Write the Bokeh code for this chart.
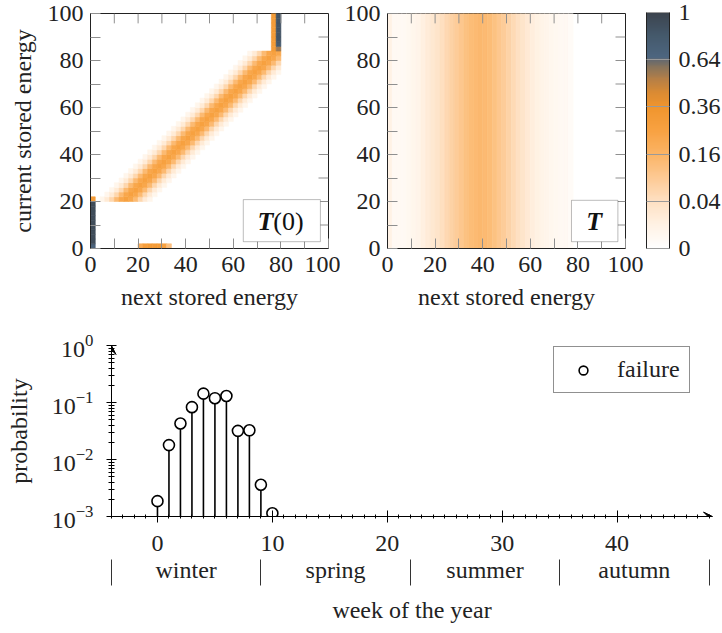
import numpy as np
from bokeh.plotting import figure
from bokeh.models import (ColumnDataSource, LinearColorMapper, ColorBar, FixedTicker,
                          LinearAxis, BoxAnnotation, Label, Arrow, VeeHead, Range1d)
from bokeh.transform import transform
from bokeh.layouts import column, row
from bokeh.embed import file_html
from bokeh.resources import INLINE

SERIF = "Liberation Serif"
FS = "24px"
TXT = "#222222"

# ---------------- data ----------------
n_states = 50            # energy states, each 2 units wide (0..100)
state_width = 2

# T(0): rows = current stored energy state, cols = next stored energy state
band_first_row = 10
band_last_row = 41
band_center_shift = -3   # centre column relative to the row
band_profile = [0.005, 0.02, 0.06, 0.14, 0.22, 0.26, 0.22, 0.14, 0.06, 0.02, 0.005]
cap_rows = [42, 43, 44, 45, 46, 47, 48, 49]
cap_col38 = [0.30, 0.30, 0.30, 0.30, 0.30, 0.30, 0.30, 0.30]
cap_col39 = [0.55, 0.80, 0.85, 0.85, 0.85, 0.85, 0.85, 0.85]
low_rows = [0, 1, 2, 3, 4, 5, 6, 7, 8, 9]
low_col0 = [0.70, 0.92, 0.92, 0.92, 0.92, 0.92, 0.92, 0.92, 0.92, 0.92]
row10_col0 = 0.30
row0_cols = [10, 11, 12, 13, 14, 15, 16]
row0_vals = [0.20, 0.28, 0.30, 0.30, 0.30, 0.25, 0.12]

# T: same distribution of next state for every current state
T_next_profile = [0.010, 0.002, 0.002, 0.002, 0.003, 0.005, 0.007, 0.012, 0.018, 0.025,
                  0.032, 0.042, 0.055, 0.070, 0.085, 0.100, 0.115, 0.130, 0.140, 0.145,
                  0.140, 0.130, 0.115, 0.100, 0.085, 0.068, 0.052, 0.040, 0.030, 0.022,
                  0.015, 0.011, 0.008, 0.006, 0.004, 0.003, 0.002, 0.002, 0.001, 0.0,
                  0.0, 0.0, 0.0, 0.0, 0.0, 0.0, 0.0, 0.0, 0.0, 0.0]

heat_ticks = [0, 20, 40, 60, 80, 100]
heat_minor = [10, 30, 50, 70, 90]
cbar_values = [0, 0.04, 0.16, 0.36, 0.64, 1]
cbar_labels = ["0", "0.04", "0.16", "0.36", "0.64", "1"]

weeks = [0, 1, 2, 3, 4, 5, 6, 7, 8, 9, 10]
failure_prob = [0.00186, 0.0179, 0.0428, 0.0828, 0.143, 0.119, 0.130, 0.0318, 0.0325, 0.0036, 0.00114]
week_ticks = [0, 10, 20, 30, 40]
season_names = ["winter", "spring", "summer", "autumn"]
season_bounds = [-4, 9, 22, 35, 48]

# ---------------- matrices ----------------
T0 = np.zeros((n_states, n_states))
for r in range(band_first_row, band_last_row + 1):
    c0 = r + band_center_shift - len(band_profile) // 2
    for k, v in enumerate(band_profile):
        c = c0 + k
        if 0 <= c < 40:
            T0[r, c] += v
for r, a, b in zip(cap_rows, cap_col38, cap_col39):
    T0[r, 38] = a
    T0[r, 39] = b
for r, v in zip(low_rows, low_col0):
    T0[r, 0] = v
T0[10, 0] = row10_col0
for c, v in zip(row0_cols, row0_vals):
    T0[0, c] = v

# ---------------- colour map (sqrt scale) ----------------
anchors = [(0.0, "#ffffff"), (0.1, "#fff2e4"), (0.2, "#fee0c2"), (0.3, "#fdca94"),
           (0.4, "#fbb465"), (0.5, "#f8a242"), (0.6, "#f0952e"), (0.66, "#db8b33"),
           (0.72, "#b47f47"), (0.77, "#87745c"), (0.8, "#66696d"), (0.81, "#4d6680"),
           (0.9, "#455a6d"), (1.0, "#3c444e")]


def hex2rgb(h):
    return [int(h[i:i + 2], 16) for i in (1, 3, 5)]


palette = []
for i in range(256):
    t = i / 255
    for j in range(len(anchors) - 1):
        t0, c0 = anchors[j]
        t1, c1 = anchors[j + 1]
        if t0 <= t <= t1:
            f = (t - t0) / (t1 - t0) if t1 > t0 else 0
            a, b = hex2rgb(c0), hex2rgb(c1)
            rgb = [round(a[k] + (b[k] - a[k]) * f) for k in range(3)]
            palette.append("#%02x%02x%02x" % tuple(rgb))
            break
mapper = LinearColorMapper(palette=palette, low=0, high=1)

TICK_LEN = 4.2   # inner tick length on the top/right edges (data units ~10px)


def heat_fig(width, left_border, right_border, ylabel=None):
    p = figure(width=width, height=320, x_range=Range1d(0, 100), y_range=Range1d(0, 100),
               output_backend="svg", toolbar_location=None, x_axis_type=None, y_axis_type=None,
               min_border_left=left_border, min_border_right=right_border,
               min_border_top=13, min_border_bottom=72)
    p.outline_line_color = TXT
    for side in ["below", "left"]:
        ax = LinearAxis(ticker=FixedTicker(ticks=heat_ticks, minor_ticks=heat_minor))
        ax.major_tick_in = 10
        ax.major_tick_out = 0
        ax.minor_tick_in = 10
        ax.minor_tick_out = 0
        ax.major_tick_line_color = "#8f8f8f"
        ax.minor_tick_line_color = "#8f8f8f"
        ax.axis_line_color = TXT
        ax.major_label_text_font = SERIF
        ax.major_label_text_font_size = FS
        ax.major_label_text_color = TXT
        ax.major_label_standoff = 8 if side == "below" else 7
        ax.axis_label_text_font = SERIF
        ax.axis_label_text_font_size = FS
        ax.axis_label_text_font_style = "normal"
        ax.axis_label_text_color = TXT
        ax.axis_label_standoff = 9
        if side == "below":
            ax.axis_label = "next stored energy"
        elif ylabel:
            ax.axis_label = ylabel
        p.add_layout(ax, side)
    return p


def edge_ticks(p):
    tk = heat_ticks[1:-1] + heat_minor
    top = 100
    p.segment(x0=tk, y0=[top] * len(tk), x1=tk, y1=[top - TICK_LEN] * len(tk),
              line_color="#8f8f8f", line_width=1)
    p.segment(x0=[top] * len(tk), y0=tk, x1=[top - TICK_LEN] * len(tk), y1=tk,
              line_color="#8f8f8f", line_width=1)


# ---- left heatmap T(0)
p1 = heat_fig(340, 90, 12, "current stored energy")
rr, cc = np.nonzero(T0)
src1 = ColumnDataSource(dict(
    left=(cc * state_width).tolist(), right=(cc * state_width + state_width).tolist(),
    bottom=(rr * state_width).tolist(), top=(rr * state_width + state_width).tolist(),
    t=np.sqrt(T0[rr, cc]).tolist()))
p1.quad(left="left", right="right", bottom="bottom", top="top", source=src1,
        fill_color=transform("t", mapper), line_color=transform("t", mapper), line_width=0.6)
edge_ticks(p1)
p1.add_layout(BoxAnnotation(left=64.2, right=96.6, bottom=2.9, top=20.8, fill_color="white",
                            fill_alpha=1, line_color=TXT, line_width=1))
p1.add_layout(Label(x=76.8, y=11.6, text="T", text_font=SERIF, text_font_size="26px",
                    text_font_style="bold italic", text_align="right", text_baseline="middle",
                    text_color="#111111"))
p1.add_layout(Label(x=76.8, y=11.6, text="(0)", text_font=SERIF, text_font_size="26px",
                    text_align="left", text_baseline="middle", text_color="#111111"))

# ---- right heatmap T
p2 = heat_fig(382, 47, 97)
cols = [i for i, v in enumerate(T_next_profile) if v > 0]
src2 = ColumnDataSource(dict(
    left=[c * state_width for c in cols], right=[c * state_width + state_width for c in cols],
    bottom=[0] * len(cols), top=[n_states * state_width] * len(cols),
    t=[float(np.sqrt(T_next_profile[c])) for c in cols]))
p2.quad(left="left", right="right", bottom="bottom", top="top", source=src2,
        fill_color=transform("t", mapper), line_color=transform("t", mapper), line_width=0.6)
edge_ticks(p2)
p2.add_layout(BoxAnnotation(left=77.3, right=96.8, bottom=2.9, top=20.5, fill_color="white",
                            fill_alpha=1, line_color=TXT, line_width=1))
p2.add_layout(Label(x=86.8, y=11.6, text="T", text_font=SERIF, text_font_size="26px",
                    text_font_style="bold italic", text_align="center", text_baseline="middle",
                    text_color="#111111"))

cb = ColorBar(color_mapper=mapper, width=23, height=236, padding=0, margin=0,
              location=(259, 0),
              ticker=FixedTicker(ticks=[float(np.sqrt(v)) for v in cbar_values]),
              major_label_overrides={float(np.sqrt(v)): s for v, s in zip(cbar_values, cbar_labels)},
              major_label_text_font=SERIF, major_label_text_font_size=FS,
              major_label_text_color=TXT, label_standoff=9,
              major_tick_in=23, major_tick_out=0, major_tick_line_color="#9a9a9a",
              bar_line_color=TXT, border_line_color=None, background_fill_alpha=0)
p2.add_layout(cb, "center")

# ---- bottom: failure probability
x_start, x_end = -4, 48.3
y_start, y_end = 1e-3, 1.0
p3 = figure(width=722, height=313, y_axis_type="log", x_axis_type=None,
            x_range=Range1d(x_start, x_end), y_range=Range1d(y_start, y_end),
            output_backend="svg", toolbar_location=None,
            min_border_left=111, min_border_right=10, min_border_top=25, min_border_bottom=117)
p3.outline_line_color = None
p3.grid.visible = False
ya = p3.yaxis[0]
ya.major_tick_in = 5
ya.major_tick_out = 5
ya.minor_tick_in = 3
ya.minor_tick_out = 3
ya.axis_line_color = "black"
ya.major_label_text_font = SERIF
ya.major_label_text_font_size = FS
ya.major_label_text_color = TXT
ya.major_label_standoff = 13
ya.axis_label = "probability"
ya.axis_label_text_font = SERIF
ya.axis_label_text_font_size = FS
ya.axis_label_text_font_style = "normal"
ya.axis_label_text_color = TXT
ya.axis_label_standoff = 17

xa = LinearAxis(ticker=FixedTicker(ticks=week_ticks, minor_ticks=list(range(-4, 49))))
xa.major_tick_in = 6
xa.major_tick_out = 6
xa.minor_tick_in = 2
xa.minor_tick_out = 2
xa.axis_line_color = "black"
xa.major_label_text_font = SERIF
xa.major_label_text_font_size = FS
xa.major_label_text_color = TXT
xa.major_label_standoff = 13
p3.add_layout(xa, "below")

season_mid = [(season_bounds[i] + season_bounds[i + 1]) / 2 for i in range(len(season_names))]
sa = LinearAxis(ticker=FixedTicker(ticks=season_mid, minor_ticks=[]),
                major_label_overrides={m: s for m, s in zip(season_mid, season_names)})
sa.axis_line_color = None
sa.major_tick_line_color = None
sa.minor_tick_line_color = None
sa.major_tick_out = 0
sa.major_tick_in = 0
sa.major_label_text_font = SERIF
sa.major_label_text_font_size = FS
sa.major_label_text_color = TXT
sa.major_label_standoff = 3
p3.add_layout(sa, "below")

# season separators drawn as inward ticks of a label-less axis, which carries the title
sep = LinearAxis(ticker=FixedTicker(ticks=season_bounds, minor_ticks=[]),
                 major_label_overrides={b: "" for b in season_bounds})
sep.axis_line_color = None
sep.major_tick_in = 26
sep.major_tick_out = 0
sep.major_tick_line_color = "#333333"
sep.major_tick_line_width = 1
sep.minor_tick_line_color = None
sep.major_label_standoff = 0
sep.axis_label = "week of the year"
sep.axis_label_text_font = SERIF
sep.axis_label_text_font_size = FS
sep.axis_label_text_font_style = "normal"
sep.axis_label_text_color = TXT
sep.axis_label_standoff = 11
p3.add_layout(sep, "below")

src3 = ColumnDataSource(dict(w=weeks, p=failure_prob, base=[y_start] * len(weeks)))
p3.segment(x0="w", y0="base", x1="w", y1="p", source=src3, line_color="black", line_width=1.6)
p3.scatter("w", "p", source=src3, size=11, marker="circle", fill_color="white",
           line_color="black", line_width=1.6, legend_label="failure")
p3.add_layout(Arrow(end=VeeHead(size=9, fill_color="black", line_color="black"), line_color="black",
                    line_width=1, x_start=x_start, y_start=y_start, x_end=x_end, y_end=y_start))
p3.add_layout(Arrow(end=VeeHead(size=9, fill_color="black", line_color="black"), line_color="black",
                    line_width=1, x_start=x_start, y_start=y_start, x_end=x_start, y_end=y_end))
lg = p3.legend[0]
lg.location = (442, 123)
lg.border_line_color = TXT
lg.border_line_width = 1
lg.padding = 9
lg.margin = 0
lg.glyph_width = 40
lg.glyph_height = 22
lg.label_standoff = 14
lg.label_text_font = SERIF
lg.label_text_font_size = FS
lg.label_text_color = TXT
lg.background_fill_alpha = 1

layout = column(row(p1, p2), p3)
open("out.html", "w").write(file_html(layout, INLINE))
